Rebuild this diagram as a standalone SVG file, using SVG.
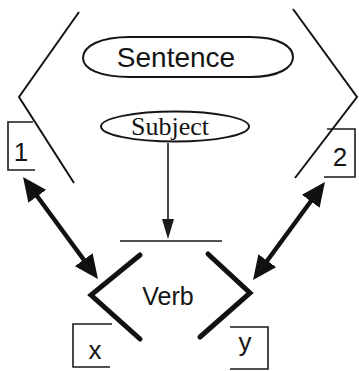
<svg xmlns="http://www.w3.org/2000/svg" width="359" height="371" viewBox="0 0 359 371">
<style>
  .ln{fill:none;stroke:#141414;stroke-width:2}
  .box{fill:none;stroke:#1a1a1a;stroke-width:1.6}
  .thick{fill:none;stroke:#111;stroke-width:5;stroke-linecap:round;stroke-linejoin:miter}
  .dbl{fill:none;stroke:#111;stroke-width:4.5}
  .thin{fill:none;stroke:#1a1a1a;stroke-width:1.6}
  .sans{font-family:"Liberation Sans",Arial,sans-serif;fill:#141414}
  .serif{font-family:"Liberation Serif","Times New Roman",serif;fill:#141414}
</style>
<defs>
  <marker id="big" viewBox="0 0 24 22" markerWidth="24" markerHeight="22" refX="6" refY="11" orient="auto-start-reverse" markerUnits="userSpaceOnUse">
    <path d="M0,0 L24,11 L0,22 Z" fill="#111"/>
  </marker>
  <marker id="small" viewBox="0 0 20 12" markerWidth="20" markerHeight="12" refX="17" refY="6" orient="auto" markerUnits="userSpaceOnUse">
    <path d="M0,0 L20,6 L0,12 Z" fill="#1a1a1a"/>
  </marker>
</defs>
<g id="frame-left"><polyline class="ln" points="79,12 19,97 74,183"/></g>
<g id="frame-right"><polyline class="ln" points="293,9 357,97 295,178"/></g>
<g id="sentence">
  <path class="ln" d="M130,37 L250,37 C280,37 293,47 293,57 C293,67 280,77 250,77 L130,77 C100,77 83,69 83,58 C83,46 100,37 130,37 Z"/>
  <text class="sans" x="176" y="66.5" font-size="28" text-anchor="middle">Sentence</text>
</g>
<g id="subject">
  <ellipse class="ln" cx="175" cy="126.5" rx="74" ry="15"/>
  <text class="serif" x="170" y="135" font-size="26" text-anchor="middle">Subject</text>
</g>
<g id="box1">
  <path class="box" d="M33,122 H8 V170 H35"/>
  <text class="sans" x="21" y="161" font-size="26" text-anchor="middle">1</text>
</g>
<g id="box2">
  <path class="box" d="M327,129 H355 V177 H324"/>
  <text class="sans" x="340" y="166" font-size="26" text-anchor="middle">2</text>
</g>
<g id="verb">
  <line class="thin" x1="120" y1="241" x2="222" y2="241"/>
  <polyline class="thick" points="140,255 91,295 140,339"/>
  <polyline class="thick" points="208,254 250,293 200,337"/>
  <text class="sans" x="168" y="305" font-size="25" text-anchor="middle">Verb</text>
</g>
<g id="boxx">
  <path class="box" d="M112,324 H73 V367 H110"/>
  <text class="sans" x="95" y="359" font-size="26" text-anchor="middle">x</text>
</g>
<g id="boxy">
  <path class="box" d="M230,327 H268 V369 H230"/>
  <text class="sans" x="245" y="351" font-size="26" text-anchor="middle">y</text>
</g>
<g id="connectors">
  <line class="thin" x1="168" y1="143" x2="168" y2="236" marker-end="url(#small)"/>
  <line class="dbl" x1="33.7" y1="191.5" x2="87.3" y2="264.5" marker-start="url(#big)" marker-end="url(#big)"/>
  <line class="dbl" x1="314.3" y1="196.5" x2="263.7" y2="265.5" marker-start="url(#big)" marker-end="url(#big)"/>
</g>
</svg>
